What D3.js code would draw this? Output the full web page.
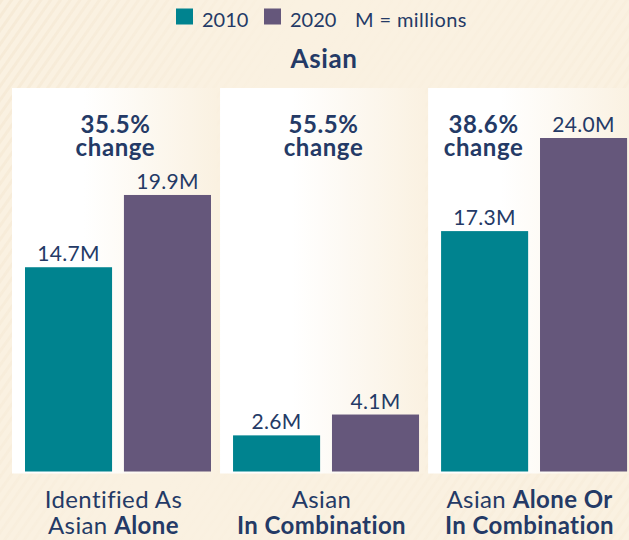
<!DOCTYPE html>
<html>
<head>
<meta charset="utf-8">
<script src="https://cdn.jsdelivr.net/npm/d3@7"></script>
<style>
  html, body { margin: 0; padding: 0; background: #FAF1E1; }
  svg { display: block; }
  text { font-family: "Lato", "Noto Sans", sans-serif; fill: #243A66; }
</style>
</head>
<body>
<svg id="chart" width="629" height="540"></svg>
<script>
// ---- data ----
const groups = ["alone", "combo", "aloneOrCombo"];
const years = ["2010", "2020"];
const values2010 = [14.7, 2.6, 17.3];
const values2020 = [19.9, 4.1, 24.0];
const valueLabels2010 = ["14.7M", "2.6M", "17.3M"];
const valueLabels2020 = ["19.9M", "4.1M", "24.0M"];
const changeLabels = ["35.5%", "55.5%", "38.6%"];
const categoryLines = [
  [[{t: "Identified As", b: false}], [{t: "Asian ", b: false}, {t: "Alone", b: true}]],
  [[{t: "Asian", b: false}], [{t: "In Combination", b: true}]],
  [[{t: "Asian ", b: false}, {t: "Alone Or", b: true}], [{t: "In Combination", b: true}]]
];
const yTicks = [0, 24];
const colors = {"2010": "#00838F", "2020": "#65577B"};

const svg = d3.select("#chart");
const W = 629, H = 540;

// background stripes
const defs = svg.append("defs");
const pat = defs.append("pattern").attr("id", "stripes").attr("width", 8).attr("height", 8)
  .attr("patternUnits", "userSpaceOnUse").attr("patternTransform", "rotate(35)");
pat.append("rect").attr("width", 8).attr("height", 8).attr("fill", "#FAF1E1");
pat.append("rect").attr("width", 3).attr("height", 8).attr("fill", "#F6EAD6");
const bgGrad = defs.append("linearGradient").attr("id", "bgfade").attr("x1", 0).attr("y1", 0).attr("x2", 1).attr("y2", 0.3);
bgGrad.append("stop").attr("offset", "0%").attr("stop-color", "#FAF1E1").attr("stop-opacity", 0);
bgGrad.append("stop").attr("offset", "45%").attr("stop-color", "#FAF1E1").attr("stop-opacity", 1);
bgGrad.append("stop").attr("offset", "100%").attr("stop-color", "#FAF1E1").attr("stop-opacity", 0.6);
svg.append("rect").attr("width", W).attr("height", H).attr("fill", "url(#stripes)");
svg.append("rect").attr("width", W).attr("height", H).attr("fill", "url(#bgfade)");

const panelGrad = defs.append("linearGradient").attr("id", "panelfade").attr("x1", 0).attr("y1", 0).attr("x2", 1).attr("y2", 0);
panelGrad.append("stop").attr("offset", "0%").attr("stop-color", "#FFFFFF");
panelGrad.append("stop").attr("offset", "35%").attr("stop-color", "#FFFFFF");
panelGrad.append("stop").attr("offset", "100%").attr("stop-color", "#FAF1E1");

// scales
const x = d3.scaleBand().domain(groups).range([12, 633]).paddingInner(0.015).paddingOuter(0);
const xInner = d3.scaleBand().domain(years).range([13, 199]).paddingInner(0.12);
const y = d3.scaleLinear().domain([yTicks[0], yTicks[1]]).range([471.5, 138]);

// panels
svg.selectAll("rect.panel").data(groups).join("rect")
  .attr("class", "panel")
  .attr("x", d => x(d)).attr("y", 88)
  .attr("width", x.bandwidth()).attr("height", 473.5 - 88)
  .attr("fill", "url(#panelfade)");

// bars
const rows = groups.map((g, i) => ({g, i, v: [values2010[i], values2020[i]], l: [valueLabels2010[i], valueLabels2020[i]]}));
rows.forEach(r => {
  years.forEach((yr, j) => {
    const bx = x(r.g) + xInner(yr);
    svg.append("rect")
      .attr("x", bx).attr("y", y(r.v[j]))
      .attr("width", xInner.bandwidth()).attr("height", y(0) - y(r.v[j]))
      .attr("fill", colors[yr]);
    svg.append("text")
      .attr("x", bx + xInner.bandwidth() / 2).attr("y", y(r.v[j]) - 6)
      .attr("text-anchor", "middle").attr("font-size", 21).attr("letter-spacing", 0.3)
      .text(r.l[j]);
  });
  // change label
  const cx = r.i === 2 ? x(r.g) + xInner("2010") + xInner.bandwidth() / 2 - 1 : x(r.g) + x.bandwidth() / 2 + 1;
  const ct = svg.append("text").attr("text-anchor", "middle").attr("font-size", 24)
    .attr("font-weight", 700).attr("letter-spacing", 0.6);
  ct.append("tspan").attr("x", cx).attr("y", 133).text(changeLabels[r.i]);
  ct.append("tspan").attr("x", cx).attr("y", 156).text("change");
  // category label
  const lx = x(r.g) + x.bandwidth() / 2 - 1;
  categoryLines[r.i].forEach((line, k) => {
    const t = svg.append("text").attr("x", lx).attr("y", 508 + k * 26)
      .attr("text-anchor", "middle").attr("font-size", 24).attr("letter-spacing", 0.4);
    line.forEach(s => t.append("tspan").attr("font-weight", s.b ? 700 : 400).text(s.t));
  });
});

// title
svg.append("text").attr("x", 324).attr("y", 68).attr("text-anchor", "middle")
  .attr("font-size", 26).attr("font-weight", 700).attr("letter-spacing", 0.6).text("Asian");

// legend
const legendItems = [{k: "2010", x: 176}, {k: "2020", x: 264}];
legendItems.forEach(it => {
  svg.append("rect").attr("x", it.x).attr("y", 8.5).attr("width", 17).attr("height", 16).attr("fill", colors[it.k]);
  svg.append("text").attr("x", it.x + 26).attr("y", 27).attr("font-size", 20).text(it.k);
});
svg.append("text").attr("x", 355).attr("y", 27).attr("font-size", 20).attr("letter-spacing", 0.4).text("M = millions");
</script>
</body>
</html>
